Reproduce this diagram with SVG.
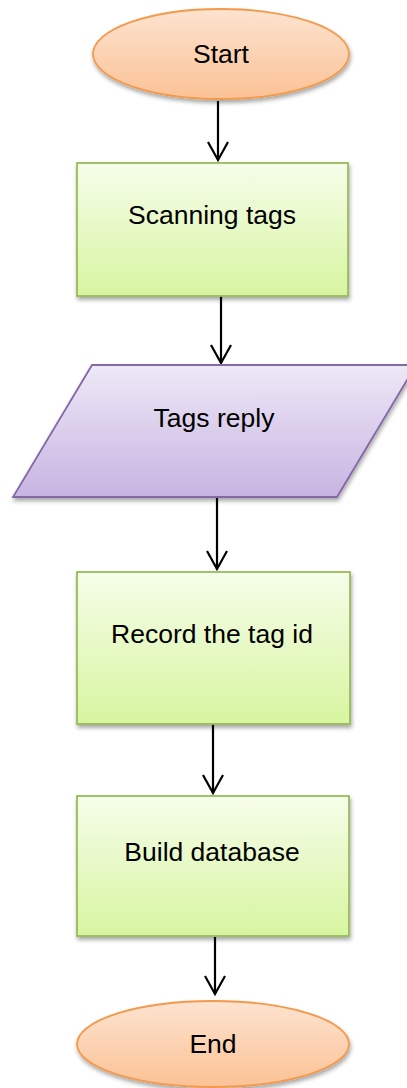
<svg xmlns="http://www.w3.org/2000/svg" width="407" height="1088" viewBox="0 0 407 1088">
  <defs>
    <linearGradient id="gOrange" x1="0" y1="0" x2="0" y2="1">
      <stop offset="0" stop-color="#fde3d0"/>
      <stop offset="1" stop-color="#fbc295"/>
    </linearGradient>
    <linearGradient id="gGreen" x1="0" y1="0" x2="0" y2="1">
      <stop offset="0" stop-color="#f6fdea"/>
      <stop offset="1" stop-color="#d7f5a0"/>
    </linearGradient>
    <linearGradient id="gPurple" x1="0" y1="0" x2="0" y2="1">
      <stop offset="0" stop-color="#eee8f7"/>
      <stop offset="1" stop-color="#c7b4e2"/>
    </linearGradient>
    <filter id="shadow" x="-10%" y="-10%" width="125%" height="130%">
      <feDropShadow dx="1" dy="3" stdDeviation="2" flood-color="#000" flood-opacity="0.35"/>
    </filter>
    <marker id="arrow" markerUnits="userSpaceOnUse" markerWidth="24" markerHeight="24" viewBox="-20 -12 24 24" refX="0" refY="0" orient="auto">
      <path d="M-18,-10 L0,0 L-18,10" fill="none" stroke="#000" stroke-width="2.2"/>
    </marker>
  </defs>
  <style>
    .term { fill: url(#gOrange); stroke: #f3994c; stroke-width: 1.8; filter: url(#shadow); }
    .proc { fill: url(#gGreen); stroke: #9bbb59; stroke-width: 1.8; filter: url(#shadow); }
    .io { fill: url(#gPurple); stroke: #8467a8; stroke-width: 1.8; filter: url(#shadow); }
    .label { font-family: "Liberation Sans", Arial, sans-serif; font-size: 26.5px; fill: #000; text-anchor: middle; }
    .link { stroke: #000; stroke-width: 2.2; fill: none; marker-end: url(#arrow); }
  </style>

  <g id="connectors">
    <line class="link" x1="218" y1="101" x2="218" y2="160"/>
    <line class="link" x1="221" y1="296" x2="221" y2="363"/>
    <line class="link" x1="217" y1="498" x2="217" y2="569"/>
    <line class="link" x1="213" y1="724" x2="213" y2="793"/>
    <line class="link" x1="215" y1="937" x2="215" y2="994"/>
  </g>

  <g id="start">
    <ellipse class="term" cx="221" cy="54" rx="128" ry="45"/>
    <text class="label" x="221" y="63">Start</text>
  </g>

  <g id="scanning-tags">
    <rect class="proc" x="77" y="163" width="271" height="133"/>
    <text class="label" x="212" y="224">Scanning tags</text>
  </g>

  <g id="tags-reply">
    <polygon class="io" points="92,365 416,365 337,497 13,497"/>
    <text class="label" x="214" y="427">Tags reply</text>
  </g>

  <g id="record-tag-id">
    <rect class="proc" x="77" y="572" width="273" height="152"/>
    <text class="label" x="212" y="643">Record the tag id</text>
  </g>

  <g id="build-database">
    <rect class="proc" x="77" y="796" width="272" height="140"/>
    <text class="label" x="212" y="861">Build database</text>
  </g>

  <g id="end">
    <ellipse class="term" cx="213" cy="1044" rx="136" ry="43"/>
    <text class="label" x="213" y="1053">End</text>
  </g>
</svg>
